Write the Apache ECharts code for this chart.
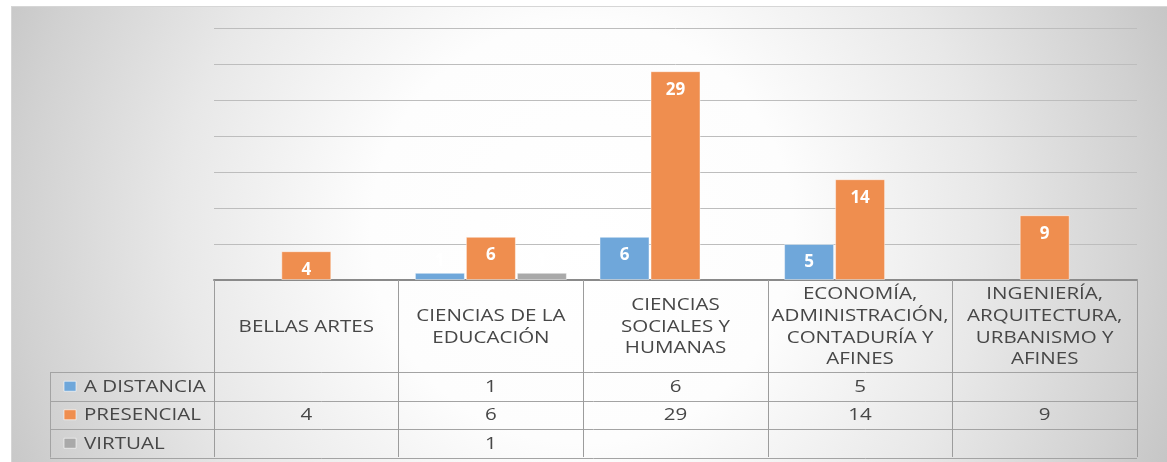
<!DOCTYPE html>
<html>
<head>
<meta charset="utf-8">
<script src="https://cdn.jsdelivr.net/npm/echarts@6/dist/echarts.min.js"></script>
<style>
  html, body { margin: 0; padding: 0; background: #ffffff; }
  #bg {
    position: absolute; left: 11px; top: 6px; width: 1160px; height: 460px;
    border: 1px solid #d6d6d6;
    background: radial-gradient(circle 640px at 570px 225px, #ffffff 0%, #fdfdfd 33%, #e8e8e8 63%, #d1d1d1 88%, #c4c4c4 100%);
  }
  #chart { position: absolute; left: 0; top: 0; width: 1167px; height: 462px; }
</style>
</head>
<body>
<div id="bg"></div>
<div id="chart"></div>
<script>
// ---- data ----
var categories = ['BELLAS ARTES', 'CIENCIAS DE LA EDUCACIÓN', 'CIENCIAS SOCIALES Y HUMANAS',
  'ECONOMÍA, ADMINISTRACIÓN, CONTADURÍA Y AFINES', 'INGENIERÍA, ARQUITECTURA, URBANISMO Y AFINES'];
var categoryLabels = ['BELLAS ARTES', 'CIENCIAS DE LA\nEDUCACIÓN', 'CIENCIAS\nSOCIALES Y\nHUMANAS',
  'ECONOMÍA,\nADMINISTRACIÓN,\nCONTADURÍA Y\nAFINES', 'INGENIERÍA,\nARQUITECTURA,\nURBANISMO Y\nAFINES'];
var seriesNames = ['A DISTANCIA', 'PRESENCIAL', 'VIRTUAL'];
var aDistancia = [null, 1, 6, 5, null];
var presencial = [4, 6, 29, 14, 9];
var virtual = [null, 1, null, null, null];
var yTicks = [0, 5, 10, 15, 20, 25, 30, 35];

var colors = ['#6fa7da', '#ef8e4f', '#a9a9a9'];
var seriesValues = [aDistancia, presencial, virtual];

var chart = echarts.init(document.getElementById('chart'), null, { renderer: 'canvas' });

function makeData(arr) {
  return arr.map(function (v) {
    if (v === null) return null;
    return {
      value: v,
      label: v < 3 ? { position: 'top', distance: 3 } : { position: 'insideTop', distance: 10 }
    };
  });
}

var series = seriesValues.map(function (arr, i) {
  return {
    name: seriesNames[i],
    type: 'bar',
    data: makeData(arr),
    barWidth: 50,
    barGap: '2%',
    itemStyle: { color: colors[i], borderColor: 'rgba(255,255,255,0.45)', borderWidth: 1 },
    label: {
      show: true,
      color: '#ffffff',
      fontFamily: 'Open Sans',
      fontWeight: 'bold',
      fontSize: 17
    }
  };
});

chart.setOption({
  animation: false,
  backgroundColor: 'transparent',
  grid: { left: 214, right: 30, top: 28, bottom: 182 },
  xAxis: {
    type: 'category',
    data: categories,
    axisLine: { show: true, lineStyle: { color: '#8a8a8a', width: 2 } },
    axisTick: { show: true, length: 177, interval: 0, lineStyle: { color: '#9c9c9c', width: 1 } },
    axisLabel: { show: false }
  },
  yAxis: {
    type: 'value',
    min: yTicks[0],
    max: yTicks[yTicks.length - 1],
    interval: yTicks[1] - yTicks[0],
    axisLine: { show: false },
    axisTick: { show: false },
    axisLabel: { show: false },
    splitLine: { lineStyle: { color: '#bdbdbd', width: 1 } }
  },
  series: series
});

// ---- data table under the axis ----
var c0 = chart.convertToPixel({ xAxisIndex: 0 }, categories[0]);
var c1 = chart.convertToPixel({ xAxisIndex: 0 }, categories[1]);
var bw = c1 - c0;
var xLeft = c0 - bw / 2;
var xRight = xLeft + bw * categories.length;
var base = chart.convertToPixel({ yAxisIndex: 0 }, 0);
var headerH = 92, rowH = 28.5, legendLeft = 50;
var rowsTop = base + headerH;
var tableBottom = rowsTop + rowH * seriesNames.length;
var font = '16.5px "Open Sans"';
var txtColor = '#474747';
var sx = 1.245;

var g = [];
// horizontal lines
for (var r = 0; r <= seriesNames.length; r++) {
  var y = Math.round(rowsTop + r * rowH) + 0.5;
  g.push({ type: 'line', shape: { x1: legendLeft, y1: y, x2: xRight, y2: y },
    style: { stroke: '#a3a3a3', lineWidth: 1 } });
}
// legend column left border
g.push({ type: 'line', shape: { x1: legendLeft + 0.5, y1: rowsTop, x2: legendLeft + 0.5, y2: tableBottom },
  style: { stroke: '#a3a3a3', lineWidth: 1 } });

// header labels and cell values
categories.forEach(function (cat, i) {
  var cx = chart.convertToPixel({ xAxisIndex: 0 }, cat);
  g.push({ type: 'text', x: cx, y: base + headerH / 2 + 1, scaleX: sx,
    style: { text: categoryLabels[i], font: font, fill: txtColor, align: 'center',
      verticalAlign: 'middle', lineHeight: 21.7 } });
  seriesValues.forEach(function (arr, r) {
    if (arr[i] === null) return;
    g.push({ type: 'text', x: cx, y: rowsTop + r * rowH + rowH / 2 + 1, scaleX: sx,
      style: { text: String(arr[i]), font: font, fill: txtColor, align: 'center', verticalAlign: 'middle' } });
  });
});

// legend keys + names
seriesNames.forEach(function (name, r) {
  var cy = rowsTop + r * rowH + rowH / 2;
  g.push({ type: 'rect', shape: { x: legendLeft + 14, y: cy - 5, width: 12, height: 10 },
    style: { fill: colors[r], stroke: 'rgba(255,255,255,0.6)', lineWidth: 1 } });
  g.push({ type: 'text', x: legendLeft + 34, y: cy + 1, scaleX: sx,
    style: { text: name, font: font, fill: txtColor, align: 'left', verticalAlign: 'middle' } });
});

chart.setOption({ graphic: { elements: g } });
</script>
</body>
</html>
